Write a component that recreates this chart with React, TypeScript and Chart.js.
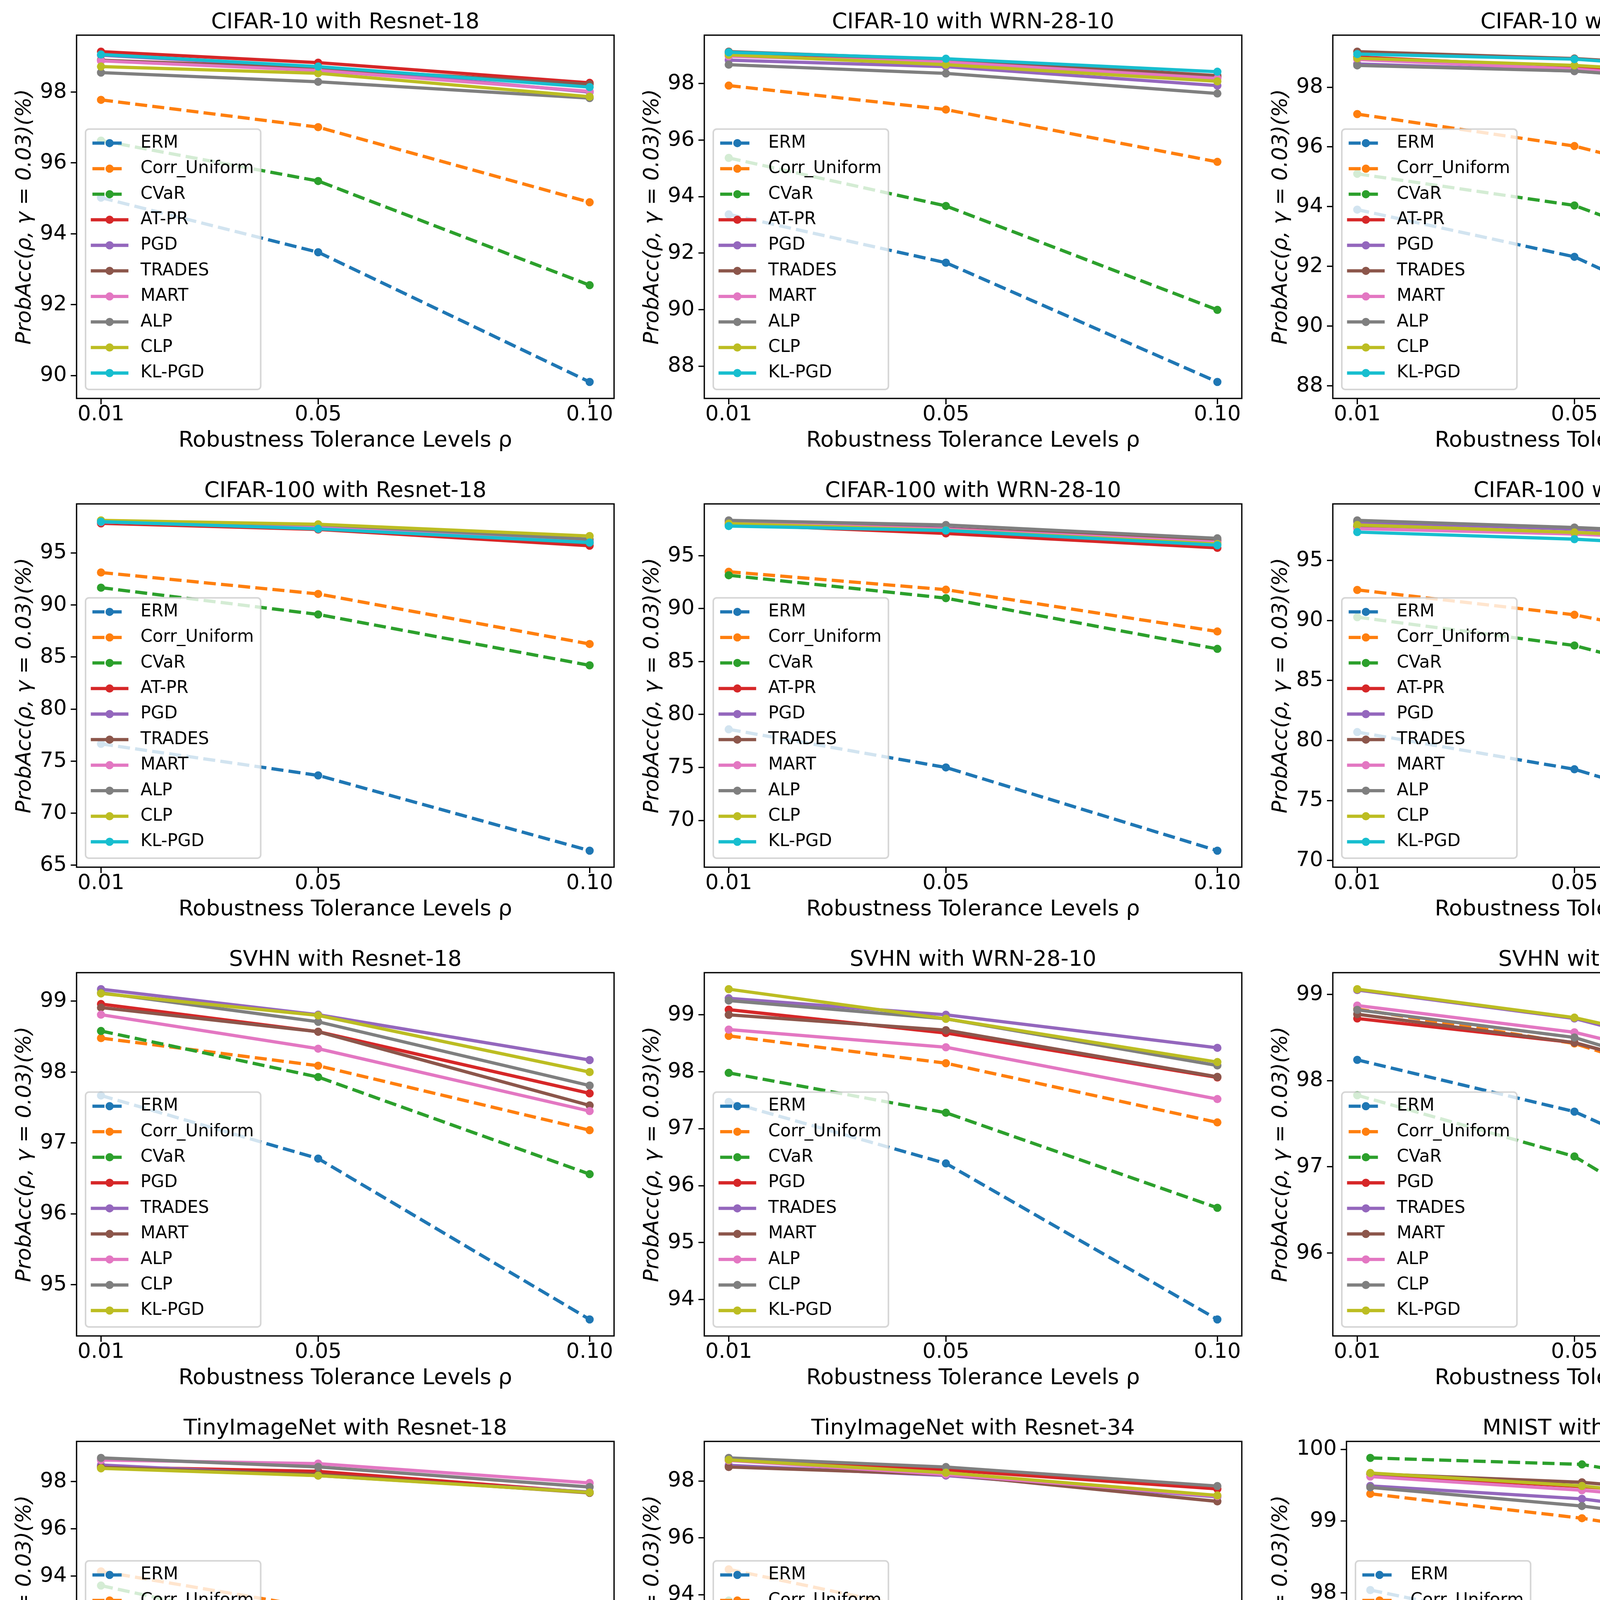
import React, { useEffect, useRef } from 'react';
import { Chart, registerables } from 'chart.js';

Chart.register(...registerables);

// ---------------- data ----------------
const X_VALUES = [0.01, 0.05, 0.1];
const X_TICK_LABELS = ['0.01', '0.05', '0.10'];

const METHODS_A = ['ERM', 'Corr_Uniform', 'CVaR', 'AT-PR', 'PGD', 'TRADES', 'MART', 'ALP', 'CLP', 'KL-PGD'];
const METHODS_B = ['ERM', 'Corr_Uniform', 'CVaR', 'PGD', 'TRADES', 'MART', 'ALP', 'CLP', 'KL-PGD'];
const DASHED_METHODS = ['ERM', 'Corr_Uniform', 'CVaR'];

const TAB10 = ['#1f77b4', '#ff7f0e', '#2ca02c', '#d62728', '#9467bd', '#8c564b', '#e377c2', '#7f7f7f', '#bcbd22', '#17becf'];

// rows follow the method order of the panel (values at rho = 0.01, 0.05, 0.10)
const CIFAR10_RESNET18 = [
  [95.02, 93.48, 89.82],
  [97.78, 97.01, 94.89],
  [96.63, 95.49, 92.55],
  [99.14, 98.83, 98.26],
  [99.04, 98.7, 98.0],
  [98.9, 98.67, 98.22],
  [98.88, 98.61, 98.02],
  [98.55, 98.29, 97.83],
  [98.72, 98.53, 97.87],
  [99.06, 98.72, 98.14],
];
const CIFAR10_WRN2810 = [
  [93.37, 91.66, 87.44],
  [97.93, 97.08, 95.23],
  [95.37, 93.67, 89.99],
  [99.09, 98.83, 98.23],
  [98.83, 98.6, 97.93],
  [99.13, 98.86, 98.28],
  [98.97, 98.76, 98.18],
  [98.67, 98.36, 97.65],
  [99.02, 98.67, 98.08],
  [99.11, 98.88, 98.42],
];
const CIFAR10_VGG19 = [
  [93.9, 92.32, 88.13],
  [97.1, 96.03, 93.73],
  [95.1, 94.04, 90.68],
  [99.01, 98.67, 98.0],
  [98.78, 98.54, 97.96],
  [99.19, 98.96, 98.42],
  [98.93, 98.61, 97.94],
  [98.73, 98.54, 97.87],
  [98.97, 98.73, 98.19],
  [99.11, 98.94, 98.31],
];
const CIFAR100_RESNET18 = [
  [76.66, 73.63, 66.4],
  [93.12, 91.06, 86.25],
  [91.66, 89.09, 84.2],
  [97.84, 97.25, 95.69],
  [97.95, 97.4, 96.05],
  [97.95, 97.4, 95.95],
  [97.98, 97.45, 96.2],
  [98.1, 97.72, 96.31],
  [98.12, 97.75, 96.62],
  [98.0, 97.31, 96.0],
];
const CIFAR100_WRN2810 = [
  [78.6, 75.0, 67.14],
  [93.48, 91.79, 87.84],
  [93.15, 90.99, 86.2],
  [97.95, 97.1, 95.74],
  [98.2, 97.6, 96.35],
  [98.1, 97.55, 96.48],
  [98.1, 97.5, 96.27],
  [98.33, 97.9, 96.64],
  [98.03, 97.4, 96.1],
  [97.8, 97.38, 95.99],
];
const CIFAR100_VGG19 = [
  [80.7, 77.6, 70.82],
  [92.54, 90.47, 86.04],
  [90.27, 87.91, 81.99],
  [97.79, 97.25, 95.96],
  [98.19, 97.6, 96.66],
  [97.85, 97.28, 96.05],
  [97.65, 97.2, 96.17],
  [98.33, 97.74, 96.77],
  [97.95, 97.33, 96.42],
  [97.36, 96.77, 95.58],
];
const SVHN_RESNET18 = [
  [97.67, 96.78, 94.51],
  [98.48, 98.09, 97.18],
  [98.58, 97.93, 96.56],
  [98.96, 98.57, 97.7],
  [99.17, 98.81, 98.17],
  [98.91, 98.57, 97.53],
  [98.81, 98.33, 97.45],
  [99.12, 98.71, 97.81],
  [99.11, 98.8, 98.0],
];
const SVHN_WRN2810 = [
  [97.47, 96.39, 93.65],
  [98.63, 98.15, 97.11],
  [97.98, 97.28, 95.61],
  [99.09, 98.68, 97.9],
  [99.29, 99.0, 98.42],
  [99.0, 98.73, 97.91],
  [98.74, 98.43, 97.52],
  [99.25, 98.93, 98.11],
  [99.45, 98.93, 98.17],
];
const SVHN_VGG19 = [
  [98.24, 97.64, 96.22],
  [98.83, 98.43, 97.43],
  [97.83, 97.12, 95.23],
  [98.72, 98.44, 97.58],
  [99.05, 98.72, 97.9],
  [98.77, 98.44, 97.6],
  [98.87, 98.56, 97.8],
  [98.82, 98.5, 97.55],
  [99.06, 98.73, 98.03],
];
const TINY_RESNET18 = [
  [91.72, 89.84, 85.03],
  [94.2, 92.65, 89.01],
  [93.6, 91.61, 87.62],
  [98.62, 98.43, 97.54],
  [98.7, 98.25, 97.56],
  [98.6, 98.3, 97.52],
  [98.91, 98.76, 97.94],
  [99.0, 98.62, 97.77],
  [98.56, 98.25, 97.54],
];
const TINY_RESNET34 = [
  [92.79, 91.16, 87.19],
  [94.89, 93.29, 89.79],
  [93.79, 92.66, 88.87],
  [98.74, 98.39, 97.72],
  [98.55, 98.19, 97.44],
  [98.49, 98.23, 97.28],
  [98.72, 98.23, 97.47],
  [98.81, 98.49, 97.82],
  [98.74, 98.29, 97.49],
];
const MNIST_SIMPLECNN = [
  [98.04, 97.43, 95.28],
  [99.38, 99.04, 98.45],
  [99.88, 99.79, 99.17],
  [99.65, 99.48, 99.2],
  [99.49, 99.31, 98.84],
  [99.66, 99.54, 99.22],
  [99.62, 99.43, 99.11],
  [99.47, 99.21, 98.74],
  [99.67, 99.49, 99.11],
];
const CINIC_RESNET18 = [
  [53.83, 49.97, 41.63],
  [95.83, 94.94, 92.49],
  [92.49, 91.18, 87.79],
  [98.85, 98.7, 98.3],
  [98.7, 98.55, 98.17],
  [98.85, 98.7, 98.3],
  [98.85, 98.7, 98.35],
  [98.95, 98.75, 98.33],
  [99.11, 98.96, 98.54],
];
const CINIC_WRN2810 = [
  [71.65, 67.93, 60.8],
  [96.77, 95.83, 93.53],
  [97.81, 97.39, 96.07],
  [98.96, 98.61, 97.91],
  [99.0, 98.75, 98.2],
  [98.96, 98.7, 98.1],
  [99.0, 98.75, 98.25],
  [99.2, 99.03, 98.37],
  [99.06, 98.78, 98.37],
];
const IMAGENET50_RESNET18 = [
  [97.64, 97.41, 96.23],
  [97.71, 97.26, 96.67],
  [97.94, 96.99, 95.09],
  [99.81, 99.73, 99.43],
  [99.09, 98.94, 98.79],
  [99.01, 98.94, 98.54],
  [99.33, 99.26, 98.72],
  [99.52, 99.45, 99.23],
  [99.47, 99.26, 98.85],
];

const TICKS_88_98 = [88, 90, 92, 94, 96, 98];
const TICKS_90_98 = [90, 92, 94, 96, 98];
const TICKS_65_95 = [65, 70, 75, 80, 85, 90, 95];
const TICKS_95_99 = [95, 96, 97, 98, 99];
const TICKS_94_99 = [94, 95, 96, 97, 98, 99];
const TICKS_96_99 = [96, 97, 98, 99];
const TICKS_86_98 = [86, 88, 90, 92, 94, 96, 98];
const TICKS_96_100 = [96, 97, 98, 99, 100];
const TICKS_40_100 = [40, 50, 60, 70, 80, 90, 100];
const TICKS_60_100 = [60, 70, 80, 90, 100];
const TICKS_95_100 = [95, 96, 97, 98, 99, 100];

const TITLES = [
  'CIFAR-10 with Resnet-18', 'CIFAR-10 with WRN-28-10', 'CIFAR-10 with VGG-19',
  'CIFAR-100 with Resnet-18', 'CIFAR-100 with WRN-28-10', 'CIFAR-100 with VGG-19',
  'SVHN with Resnet-18', 'SVHN with WRN-28-10', 'SVHN with VGG-19',
  'TinyImageNet with Resnet-18', 'TinyImageNet with Resnet-34', 'MNIST with SimpleCNN',
  'CINIC-10 with Resnet-18', 'CINIC-10 with WRN-28-10', 'ImageNet-50 with Resnet-18',
];
const PANEL_VALUES = [
  CIFAR10_RESNET18, CIFAR10_WRN2810, CIFAR10_VGG19,
  CIFAR100_RESNET18, CIFAR100_WRN2810, CIFAR100_VGG19,
  SVHN_RESNET18, SVHN_WRN2810, SVHN_VGG19,
  TINY_RESNET18, TINY_RESNET34, MNIST_SIMPLECNN,
  CINIC_RESNET18, CINIC_WRN2810, IMAGENET50_RESNET18,
];
const PANEL_METHODS = [
  METHODS_A, METHODS_A, METHODS_A,
  METHODS_A, METHODS_A, METHODS_A,
  METHODS_B, METHODS_B, METHODS_B,
  METHODS_B, METHODS_B, METHODS_B,
  METHODS_B, METHODS_B, METHODS_B,
];
const PANEL_TICKS = [
  TICKS_90_98, TICKS_88_98, TICKS_88_98,
  TICKS_65_95, TICKS_65_95, TICKS_65_95,
  TICKS_95_99, TICKS_94_99, TICKS_96_99,
  TICKS_86_98, TICKS_88_98, TICKS_96_100,
  TICKS_40_100, TICKS_60_100, TICKS_95_100,
];

const X_TITLE = 'Robustness Tolerance Levels ρ';
const Y_TITLE = 'ProbAcc(ρ, γ = 0.03)(%)';

// ---------------- styling ----------------
const FONT = '"DejaVu Sans", sans-serif';
const CELL_W = 1600;
const CELL_H = 1200;
const COL_LEFT = [0, 1607, 3216];
const LW = 8.33;
const SPINE_W = 3.33;

const frameLegendPlugin = {
  id: 'frameLegend',
  afterDatasetsDraw(chart: any) {
    const { ctx, chartArea: a } = chart;
    ctx.save();
    // spines
    ctx.strokeStyle = '#000';
    ctx.lineWidth = SPINE_W;
    ctx.setLineDash([]);
    ctx.strokeRect(a.left, a.top, a.right - a.left, a.bottom - a.top);

    // legend (lower left, semi-transparent)
    const ds = chart.data.datasets;
    const n = ds.length;
    const fs = 44;
    ctx.font = `${fs}px ${FONT}`;
    let maxW = 0;
    ds.forEach((d: any) => { maxW = Math.max(maxW, ctx.measureText(d.label).width); });
    const pitch = 65.4;
    const h = 78 + (n - 1) * pitch;
    const w = 140.8 + maxW + 17.6;
    const x0 = a.left + 23;
    const y0 = a.bottom - 23 - h;
    ctx.beginPath();
    ctx.roundRect(x0, y0, w, h, 8.8);
    ctx.fillStyle = 'rgba(255,255,255,0.8)';
    ctx.fill();
    ctx.strokeStyle = 'rgba(204,204,204,0.8)';
    ctx.lineWidth = 4;
    ctx.stroke();

    ds.forEach((d: any, i: number) => {
      const cy = y0 + 36 + i * pitch;
      const hx0 = x0 + 17.6;
      const hx1 = hx0 + 88;
      ctx.beginPath();
      ctx.setLineDash(d.borderDash || []);
      ctx.lineDashOffset = 0;
      ctx.lineWidth = LW;
      ctx.lineCap = (d.borderDash && d.borderDash.length) ? 'butt' : 'square';
      ctx.strokeStyle = d.borderColor;
      ctx.moveTo(hx0, cy);
      ctx.lineTo(hx1, cy);
      ctx.stroke();
      ctx.setLineDash([]);
      ctx.beginPath();
      ctx.arc((hx0 + hx1) / 2, cy, 10.5, 0, Math.PI * 2);
      ctx.fillStyle = d.borderColor;
      ctx.fill();
      ctx.fillStyle = '#000';
      ctx.textBaseline = 'middle';
      ctx.textAlign = 'left';
      ctx.fillText(d.label, x0 + 140.8, cy);
    });
    ctx.restore();
  },
};

function Panel({ index }: { index: number }) {
  const ref = useRef<HTMLCanvasElement | null>(null);
  const row = Math.floor(index / 3);
  const col = index % 3;

  useEffect(() => {
    const canvas = ref.current;
    if (!canvas) return;
    const values = PANEL_VALUES[index];
    const methods = PANEL_METHODS[index];
    const yTicks = PANEL_TICKS[index];
    const all = values.flat();
    const dMin = Math.min(...all);
    const dMax = Math.max(...all);
    const yPad = 0.05 * (dMax - dMin);
    const yMin = dMin - yPad;
    const yMax = dMax + yPad;
    const xPad = 0.05 * (X_VALUES[X_VALUES.length - 1] - X_VALUES[0]);
    const xMin = X_VALUES[0] - xPad;
    const xMax = X_VALUES[X_VALUES.length - 1] + xPad;
    const visibleTicks = yTicks.filter((t) => t >= yMin && t <= yMax);
    const yAxisWidth = visibleTicks.some((t) => t >= 100) ? 231 : 196;
    const n = methods.length;

    const datasets = methods.map((m, i) => {
      const color = TAB10[i];
      const dashed = DASHED_METHODS.includes(m);
      return {
        label: m,
        data: X_VALUES.map((x, j) => ({ x, y: values[i][j] })),
        borderColor: color,
        backgroundColor: color,
        borderWidth: LW,
        borderDash: dashed ? [30.8, 13.3] : [],
        borderCapStyle: dashed ? 'butt' : 'square',
        borderJoinStyle: 'round',
        pointRadius: 9,
        pointBorderWidth: 3,
        pointBackgroundColor: color,
        pointBorderColor: color,
        pointHoverRadius: 9,
        tension: 0,
        fill: false,
        order: n - i,
      };
    });

    const gridCfg = {
      display: true,
      drawOnChartArea: false,
      drawTicks: true,
      tickLength: 15,
      color: '#000',
      tickColor: '#000',
      lineWidth: SPINE_W,
      tickWidth: SPINE_W,
    };

    const chart = new Chart(canvas, {
      type: 'line',
      data: { datasets: datasets as any },
      options: {
        animation: false,
        responsive: false,
        maintainAspectRatio: false,
        events: [],
        layout: { padding: { left: 0, right: 28, top: 0, bottom: 0 } },
        plugins: {
          legend: { display: false },
          tooltip: { enabled: false },
          title: {
            display: true,
            text: TITLES[index],
            fullSize: false,
            color: '#000',
            font: { family: FONT, size: 56, weight: 'normal', lineHeight: 1.0 },
            padding: { top: 29, bottom: 5 },
          },
        },
        scales: {
          x: {
            type: 'linear',
            min: xMin,
            max: xMax,
            afterBuildTicks: (s: any) => { s.ticks = X_VALUES.map((v) => ({ value: v })); },
            afterFit: (s: any) => { s.height = 180; },
            ticks: {
              autoSkip: false,
              maxRotation: 0,
              minRotation: 0,
              padding: 0,
              color: '#000',
              font: { family: FONT, size: 54, lineHeight: 1.0 },
              callback: (v: any) => {
                const k = X_VALUES.findIndex((x) => Math.abs(x - Number(v)) < 1e-9);
                return k >= 0 ? X_TICK_LABELS[k] : '';
              },
            },
            grid: gridCfg as any,
            border: { display: false },
            title: {
              display: true,
              text: X_TITLE,
              color: '#000',
              font: { family: FONT, size: 56, lineHeight: 1.0 },
              padding: { top: 0, bottom: 44 },
            },
          },
          y: {
            type: 'linear',
            min: yMin,
            max: yMax,
            afterBuildTicks: (s: any) => { s.ticks = visibleTicks.map((v) => ({ value: v })); },
            afterFit: (s: any) => { s.width = yAxisWidth; },
            ticks: {
              padding: 10,
              color: '#000',
              font: { family: FONT, size: 54, lineHeight: 1.0 },
              callback: (v: any) => String(v),
            },
            grid: gridCfg as any,
            border: { display: false },
            title: {
              display: true,
              text: Y_TITLE,
              color: '#000',
              font: { family: FONT, size: 54, style: 'italic', lineHeight: 1.0 },
              padding: { top: 37, bottom: 0 },
            },
          },
        },
      } as any,
      plugins: [frameLegendPlugin],
    });
    return () => chart.destroy();
  }, [index]);

  return (
    <canvas
      ref={ref}
      width={CELL_W}
      height={CELL_H}
      style={{
        position: 'absolute',
        left: COL_LEFT[col],
        top: row * CELL_H,
        width: CELL_W,
        height: CELL_H,
      }}
    />
  );
}

export default function App() {
  return (
    <div
      style={{
        position: 'absolute',
        left: 0,
        top: 0,
        width: 4800,
        height: 6000,
        background: '#fff',
        overflow: 'hidden',
      }}
    >
      {TITLES.map((_, i) => (
        <Panel key={i} index={i} />
      ))}
    </div>
  );
}
